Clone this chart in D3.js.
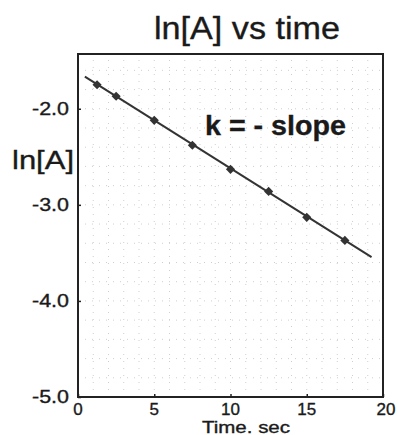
<!DOCTYPE html>
<html><head><meta charset="utf-8">
<script src="https://cdn.jsdelivr.net/npm/d3@7"></script>
<style>body{margin:0;background:#fff}svg{display:block}text{font-family:"Liberation Sans",Arial,sans-serif;fill:#1a1a1a;stroke:#1a1a1a;stroke-width:0.35px}</style>
</head><body>
<script>
const times = [1.25, 2.5, 5, 7.5, 10, 12.5, 15, 17.5];
const lnA = [-1.75, -1.87, -2.12, -2.38, -2.63, -2.86, -3.13, -3.37];
const fitTimes = [0.45, 19.25];
const fitLnA = [-1.665, -3.545];
const xTicks = [0, 5, 10, 15, 20];
const yTicks = [-2, -3, -4, -5];
const yTickLabels = ["-2.0", "-3.0", "-4.0", "-5.0"];
const title = "ln[A] vs time";
const xLabel = "Time. sec";
const yLabel = "ln[A]";
const note = "k = - slope";

const W = 398, H = 435;
const svg = d3.select("body").append("svg").attr("width", W).attr("height", H);
const x = d3.scaleLinear().domain([0, 20]).range([78, 383]);
const y = d3.scaleLinear().domain([-5, -1.43]).range([397, 54]);

// grid
const g = svg.append("g").attr("stroke", "#cfcfcf").attr("stroke-width", 1).attr("stroke-dasharray", "1 6");
g.selectAll("line.h").data(d3.range(-4.8, -1.5, 0.2)).join("line")
  .attr("x1", x(0)).attr("x2", x(20)).attr("y1", d => y(d)).attr("y2", d => y(d));
g.selectAll("line.v").data(d3.range(1, 20, 1)).join("line")
  .attr("y1", y(-5)).attr("y2", y(-1.43)).attr("x1", d => x(d)).attr("x2", d => x(d));

// axes box
svg.append("rect").attr("x", x(0)).attr("y", y(-1.43)).attr("width", x(20) - x(0)).attr("height", y(-5) - y(-1.43))
  .attr("fill", "none").attr("stroke", "#222").attr("stroke-width", 2);

// ticks inside
const xAxis = d3.axisTop(x).tickValues(xTicks).tickSize(3).tickFormat("");
svg.append("g").attr("transform", `translate(0,${y(-5)})`).call(xAxis).call(a => a.select(".domain").remove())
  .selectAll("line").attr("stroke", "#222").attr("stroke-width", 1.5);
const yAxis = d3.axisRight(y).tickValues(yTicks).tickSize(3).tickFormat("");
svg.append("g").attr("transform", `translate(${x(0)},0)`).call(yAxis).call(a => a.select(".domain").remove())
  .selectAll("line").attr("stroke", "#222").attr("stroke-width", 1.5);

// tick labels
svg.selectAll("text.xt").data(xTicks).join("text").attr("class", "xt")
  .attr("x", d => x(d) + (d === 20 ? 3 : 0)).attr("y", 415).attr("text-anchor", "middle")
  .attr("font-size", 17).text(d => d);
svg.selectAll("text.yt").data(yTicks).join("text").attr("class", "yt")
  .attr("x", 69).attr("y", d => y(d) + 6).attr("text-anchor", "end")
  .attr("font-size", 18).attr("textLength", 37).attr("lengthAdjust", "spacingAndGlyphs")
  .text((d, i) => yTickLabels[i]);

// fit line
svg.append("line").attr("x1", x(fitTimes[0])).attr("y1", y(fitLnA[0]))
  .attr("x2", x(fitTimes[1])).attr("y2", y(fitLnA[1]))
  .attr("stroke", "#333").attr("stroke-width", 2);

// points (rotated squares)
svg.selectAll("path.pt").data(times).join("path").attr("class", "pt")
  .attr("d", d3.symbol(d3.symbolSquare, 42))
  .attr("transform", (d, i) => `translate(${x(d)},${y(lnA[i])}) rotate(45)`)
  .attr("fill", "#333");

// texts
svg.append("text").attr("x", 154).attr("y", 39).attr("font-size", 31)
  .attr("textLength", 186).attr("lengthAdjust", "spacingAndGlyphs").text(title);
svg.append("text").attr("x", 12).attr("y", 169).attr("font-size", 25)
  .attr("textLength", 62).attr("lengthAdjust", "spacingAndGlyphs").text(yLabel);
svg.append("text").attr("x", 205).attr("y", 135).attr("font-size", 28).attr("font-weight", "bold")
  .attr("textLength", 141).attr("lengthAdjust", "spacingAndGlyphs").text(note);
svg.append("text").attr("x", 202).attr("y", 433).attr("font-size", 16)
  .attr("textLength", 88).attr("lengthAdjust", "spacingAndGlyphs").text(xLabel);
</script>
</body></html>
